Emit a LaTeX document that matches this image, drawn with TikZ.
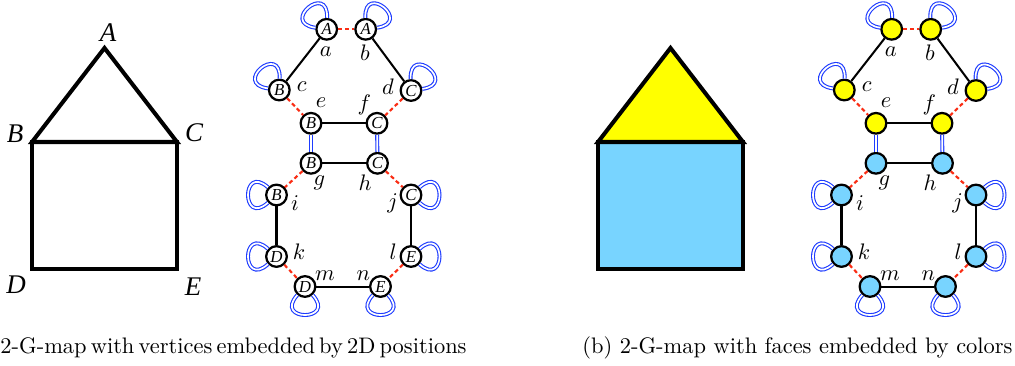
\documentclass[tikz,border=0pt]{standalone}
\usepackage{fontspec}
\newfontfamily\tnr{Liberation Serif}
\definecolor{gyel}{RGB}{255,255,0}
\definecolor{gblu}{RGB}{120,212,255}
\definecolor{gred}{RGB}{250,45,20}
\definecolor{gdbl}{RGB}{30,60,255}
\begin{document}
\begin{tikzpicture}[x=0.4454pt,y=-0.4454pt,
  dart/.style={circle,draw=black,line width=1pt,minimum size=9.2pt,inner sep=0pt,fill=white,
    font=\tnr\itshape\fontsize{7.5}{7.5}\selectfont},
  lab/.style={inner sep=0pt,font=\fontsize{10}{12}\selectfont},
  sonedge/.style={draw=black,line width=0.9pt},
  szeroedge/.style={draw=gred,line width=0.95pt,dash pattern=on 1.8pt off 1.3pt},
  stwoedge/.style={draw=gdbl,double=white,line width=0.5pt,double distance=0.75pt},
  house/.style={line width=1.8pt,line join=miter},
  hlab/.style={font=\tnr\itshape\fontsize{12}{14}\selectfont,inner sep=0pt},
  captext/.style={anchor=base west,inner sep=0pt,font=\fontsize{10}{12}\selectfont}]
\useasboundingbox (0,0) rectangle (1015,365);

% ---------- left house ----------
\coordinate (hA) at (104.5,48);
\coordinate (hB) at (32,142);
\coordinate (hC) at (177,142);
\coordinate (hD) at (32,269);
\coordinate (hE) at (177,269);
\draw[house] (hA) -- (hB) -- (hC) -- cycle;
\draw[house] (hB) -- (hD) -- (hE) -- (hC) -- cycle;
\node[hlab] (tA) at (108,33) {A};
\node[hlab] (tB) at (15,134) {B};
\node[hlab] (tC) at (194,133) {C};
\node[hlab] (tD) at (16,285) {D};
\node[hlab] (tE) at (193,287) {E};

% ---------- right house ----------
\coordinate (kA) at (670.5,48);
\coordinate (kB) at (598,142);
\coordinate (kC) at (743,142);
\coordinate (kD) at (598,269);
\coordinate (kE) at (743,269);
\draw[house,fill=gblu] (kB) -- (kD) -- (kE) -- (kC) -- cycle;
\draw[house,fill=gyel] (kA) -- (kB) -- (kC) -- cycle;

% ---------- graphs ----------
\foreach \p/\dx/\ta/\tb/\tc/\td/\te/\tf/\tg/\th/\ti/\tj/\tk/\tl/\tm/\tn/\fu/\fl in
  {L/0/A/A/B/C/B/C/B/C/B/C/D/E/D/E/white/white,
   R/565/{}/{}/{}/{}/{}/{}/{}/{}/{}/{}/{}/{}/{}/{}/gyel/gblu}{
  \begin{scope}[xshift=\dx*0.4454pt]
  \node[dart,fill=\fu] (\p a) at (326.7,29.3) {\ta};
  \node[dart,fill=\fu] (\p b) at (365.7,29.3) {\tb};
  \node[dart,fill=\fu] (\p c) at (279.3,90) {\tc};
  \node[dart,fill=\fu] (\p d) at (411,90.5) {\td};
  \node[dart,fill=\fu] (\p e) at (311,123.3) {\te};
  \node[dart,fill=\fu] (\p f) at (377,123.3) {\tf};
  \node[dart,fill=\fl] (\p g) at (311,163.3) {\tg};
  \node[dart,fill=\fl] (\p h) at (377.5,163.3) {\th};
  \node[dart,fill=\fl] (\p i) at (276.5,195) {\ti};
  \node[dart,fill=\fl] (\p j) at (411,195) {\tj};
  \node[dart,fill=\fl] (\p k) at (276.5,256.5) {\tk};
  \node[dart,fill=\fl] (\p l) at (411,256.5) {\tl};
  \node[dart,fill=\fl] (\p m) at (305,286.5) {\tm};
  \node[dart,fill=\fl] (\p n) at (380.5,286.5) {\tn};

  \node[lab] (\p la) at (325.7,51.7) {$a$};
  \node[lab] (\p lb) at (365,53) {$b$};
  \node[lab] (\p lc) at (301.7,86.7) {$c$};
  \node[lab] (\p ld) at (388,87) {$d$};
  \node[lab] (\p le) at (321,102.7) {$e$};
  \node[lab] (\p lf) at (364.3,105) {$f$};
  \node[lab] (\p lg) at (319.3,183) {$g$};
  \node[lab] (\p lh) at (365,183) {$h$};
  \node[lab] (\p li) at (295,203) {$i$};
  \node[lab] (\p lj) at (392.7,203) {$j$};
  \node[lab] (\p lk) at (299,251.7) {$k$};
  \node[lab] (\p ll) at (393.3,251.7) {$l$};
  \node[lab] (\p lm) at (325,276) {$m$};
  \node[lab] (\p ln) at (363.3,276) {$n$};
  \end{scope}

  % alpha1 (solid)
  \draw[sonedge] (\p a) -- (\p c);
  \draw[sonedge] (\p b) -- (\p d);
  \draw[sonedge] (\p e) -- (\p f);
  \draw[sonedge] (\p g) -- (\p h);
  \draw[sonedge] (\p i) -- (\p k);
  \draw[sonedge] (\p j) -- (\p l);
  \draw[sonedge] (\p m) -- (\p n);
  % alpha0 (dashed)
  \draw[szeroedge] (\p a) -- (\p b);
  \draw[szeroedge] (\p c) -- (\p e);
  \draw[szeroedge] (\p d) -- (\p f);
  \draw[szeroedge] (\p g) -- (\p i);
  \draw[szeroedge] (\p h) -- (\p j);
  \draw[szeroedge] (\p k) -- (\p m);
  \draw[szeroedge] (\p l) -- (\p n);
  % alpha2 (double)
  \draw[stwoedge] (\p e) -- (\p g);
  \draw[stwoedge] (\p f) -- (\p h);
  \foreach \v/\dir in {a/130,b/50,c/130,d/50,i/180,j/0,k/180,l/0,m/270,n/270}{
    \draw[stwoedge] (\p\v) to[out=\dir-42,in=\dir+42,distance=16pt] (\p\v);
  }
}

% ---------- captions ----------
\node[captext] (capL) at (0,353) {\spaceskip=1.85pt 2-G-map with vertices embedded by 2D positions};
\node[captext] (capR) at (582,353) {(b) 2-G-map with faces embedded by colors};
\end{tikzpicture}
\end{document}
